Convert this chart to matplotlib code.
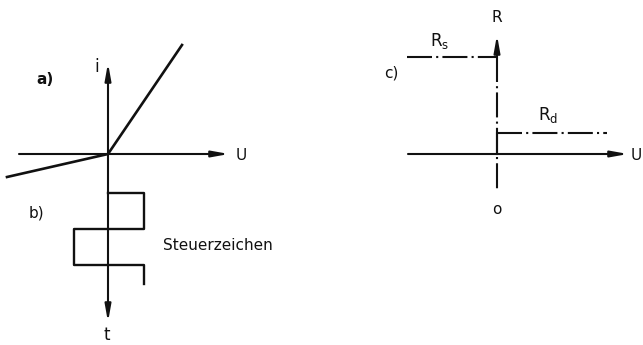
import matplotlib
matplotlib.use("Agg")
import matplotlib.pyplot as plt
import numpy as np

# --- a) i(U) characteristic (picture coords, y down) ---
origin_a = (108, 154)
u_axis_a = [19, 229]          # x range of U axis
i_axis_a = [63, 322]          # y range (arrow up at 63, arrow down at 322)
char_x = [7, 108, 182]
char_y = [177, 154, 45]

# --- b) control signal (square wave) ---
wave_x = [108, 144, 144, 74, 74, 144, 144]
wave_y = [193, 193, 229, 229, 265, 265, 284]

# --- c) R(U) ---
origin_c = (497, 154)
u_axis_c = [408, 628]
r_axis_top = 35
r_axis_bottom = 192
rs_x = [407, 497]
rs_y = 57
rd_x = [497, 607]
rd_y = 133

plt.rcParams['lines.scale_dashes'] = False
fig = plt.figure(figsize=(6.43, 3.45), dpi=100)
ax = fig.add_axes([0, 0, 1, 1])
ax.set_xlim(0, 643)
ax.set_ylim(345, 0)
ax.axis('off')

lw = 1.5
ink = '#111111'
dashdot = (0, (18, 3, 1.5, 3))

def arrow(x0, y0, x1, y1):
    ax.annotate('', xy=(x1, y1), xytext=(x0, y0),
                arrowprops=dict(arrowstyle='-|>,head_length=1.0,head_width=0.18',
                                color=ink, lw=lw, shrinkA=0, shrinkB=0))

# a) axes
arrow(u_axis_a[0], origin_a[1], u_axis_a[1], origin_a[1])
arrow(origin_a[0], origin_a[1], origin_a[0], i_axis_a[0])
arrow(origin_a[0], origin_a[1], origin_a[0], i_axis_a[1])
ax.plot(char_x, char_y, color=ink, lw=1.9, solid_joinstyle='miter')

# b) square wave
ax.plot(wave_x, wave_y, color=ink, lw=1.7)

# c) axes
arrow(u_axis_c[0], origin_c[1], u_axis_c[1], origin_c[1])
arrow(origin_c[0], rs_y, origin_c[0], r_axis_top)
ax.plot([origin_c[0], origin_c[0]], [rs_y, r_axis_bottom], color=ink, lw=lw, linestyle=dashdot)
ax.plot(rs_x, [rs_y, rs_y], color=ink, lw=lw, linestyle=dashdot)
ax.plot(rd_x, [rd_y, rd_y], color=ink, lw=lw, linestyle=dashdot)
ax.plot([origin_c[0], origin_c[0]], [rd_y, origin_c[1]], color=ink, lw=lw)

font = dict(family='DejaVu Sans', color=ink)
ax.text(45, 80, 'a)', fontsize=11, ha='center', va='center', fontweight='bold', **font)
ax.text(36, 213, 'b)', fontsize=11, ha='center', va='center', **font)
ax.text(391, 73, 'c)', fontsize=11, ha='center', va='center', **font)
ax.text(97, 67, 'i', fontsize=12, ha='center', va='center', **font)
ax.text(241, 156, 'U', fontsize=11, ha='center', va='center', **font)
ax.text(107, 335, 't', fontsize=12, ha='center', va='center', **font)
ax.text(163, 246, 'Steuerzeichen', fontsize=11, ha='left', va='center', **font)
ax.text(497, 18, 'R', fontsize=11, ha='center', va='center', **font)
ax.text(636, 156, 'U', fontsize=11, ha='center', va='center', **font)
ax.text(497, 210, 'o', fontsize=11, ha='center', va='center', **font)
ax.text(440, 41, r'R$_\mathsf{s}$', fontsize=12, ha='center', va='center', **font)
ax.text(548, 115, r'R$_\mathsf{d}$', fontsize=12, ha='center', va='center', **font)

fig.savefig('out.png', dpi=100, facecolor='w')
